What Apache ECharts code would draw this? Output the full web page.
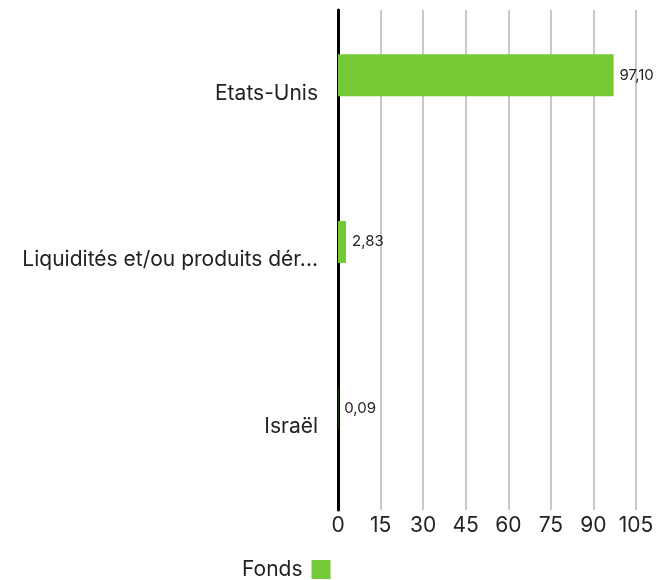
<!DOCTYPE html>
<html>
<head>
<meta charset="utf-8">
<script src="https://cdn.jsdelivr.net/npm/echarts@6/dist/echarts.min.js"></script>
<style>html,body{margin:0;padding:0;background:#fff}#c{width:659px;height:580px}</style>
</head>
<body>
<div id="c"></div>
<script>
var categories = ['Etats-Unis', 'Liquidités et/ou produits dérivés', 'Israël'];
var fondsValues = [97.10, 2.83, 0.09];
var seriesName = 'Fonds';
var xTicks = { min: 0, max: 105, interval: 15 };

var chart = echarts.init(document.getElementById('c'));
var font = 'Inter, "Noto Sans", sans-serif';
chart.setOption({
  animation: false,
  textStyle: { fontFamily: font },
  grid: { left: 338, right: 23, top: 10, bottom: 70 },
  legend: {
    data: [seriesName], bottom: -5, left: 237, align: 'right',
    itemWidth: 19, itemHeight: 19, icon: 'rect',
    textStyle: { fontSize: 21, color: '#222', fontFamily: font, padding: [0, 4, 0, 0] }
  },
  xAxis: {
    type: 'value', min: xTicks.min, max: xTicks.max, interval: xTicks.interval,
    axisLine: { show: false }, axisTick: { show: false },
    splitLine: { show: true, lineStyle: { color: '#c8c8c8', width: 2 } },
    axisLabel: { fontSize: 21, color: '#222', margin: 5, fontFamily: font }
  },
  yAxis: {
    type: 'category', data: categories, inverse: true,
    axisLine: { show: true, lineStyle: { color: '#000', width: 3 } },
    axisTick: { show: false },
    axisLabel: { fontSize: 21, color: '#222', margin: 20, width: 314, overflow: 'truncate', ellipsis: '...', padding: [10, 0, 0, 0], fontFamily: font }
  },
  series: [
    {
      name: seriesName, type: 'bar', data: fondsValues, barWidth: 42, barGap: '-14%',
      itemStyle: { color: '#74c935' },
      label: {
        show: true, position: 'right', fontSize: 15, color: '#222', distance: 6, fontFamily: font,
        formatter: function (p) { return p.value.toFixed(2).replace('.', ','); }
      }
    },
    {
      name: '_', type: 'bar', data: [null, null, null], barWidth: 42, silent: true
    }
  ]
});
</script>
</body>
</html>
